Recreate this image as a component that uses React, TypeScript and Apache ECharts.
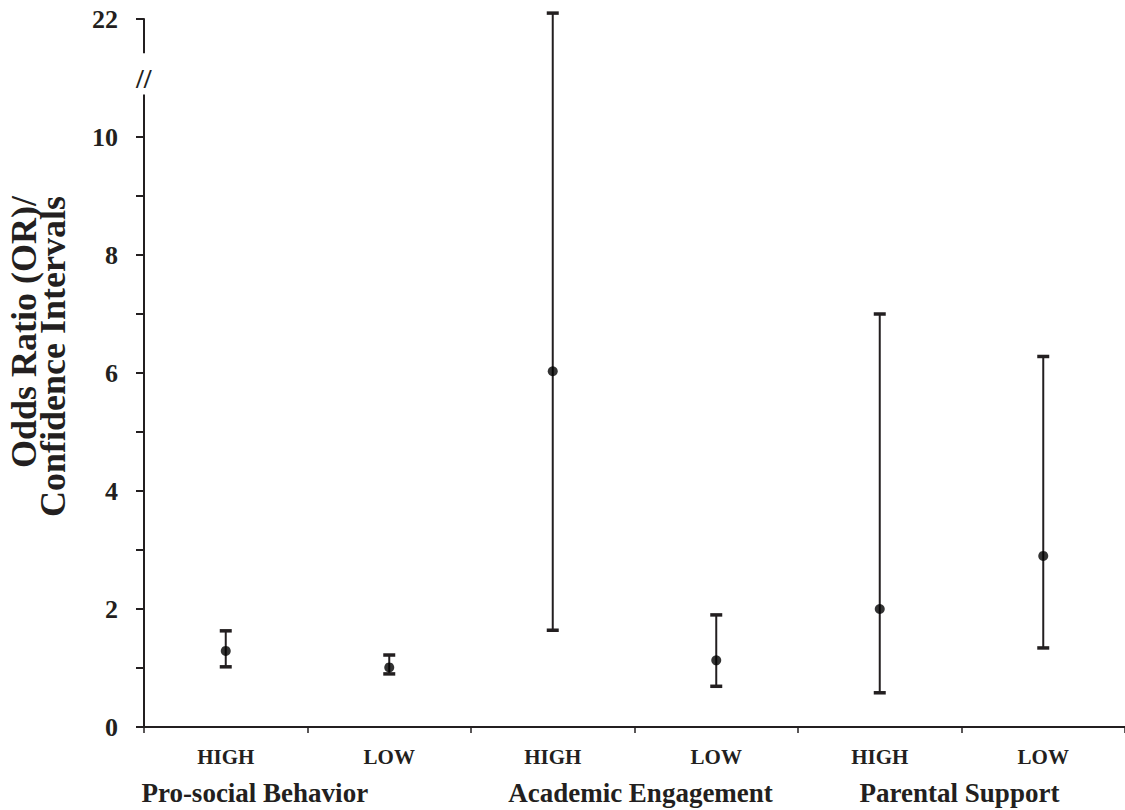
import React, { useEffect, useRef } from "react";
import * as echarts from "echarts";

const categoryIds = ["ps_high", "ps_low", "ae_high", "ae_low", "pa_high", "pa_low"];
const levelLabels = ["HIGH", "LOW", "HIGH", "LOW", "HIGH", "LOW"];
const groupNames = ["Pro-social Behavior", "Academic Engagement", "Parental Support"];
const oddsRatios = [1.29, 1.01, 6.03, 1.13, 2.0, 2.9];
const ciLower = [1.02, 0.9, 1.64, 0.69, 0.58, 1.34];
const ciUpper = [1.63, 1.22, 22.1, 1.9, 7.0, 6.28];
const yTickValues = [0, 2, 4, 6, 8, 10, 22];
const yTitleLines = ["Odds Ratio (OR)/", "Confidence Intervals"];

const BREAK_AT = 11;
const BREAK_SHIFT = 10;
const toDisplay = (v: number) => (v > BREAK_AT ? v - BREAK_SHIFT : v);

const INK = "#231f20";
const FONT = "'Liberation Serif', 'Times New Roman', serif";

export default function App() {
  const ref = useRef<HTMLDivElement>(null);

  useEffect(() => {
    if (!ref.current) return;
    const chart = echarts.init(ref.current, null, { renderer: "svg" });
    const displayTicks = yTickValues.map(toDisplay);

    const errData = categoryIds.map((_, i) => [i, toDisplay(ciLower[i]), toDisplay(ciUpper[i])]);
    const ptData = categoryIds.map((_, i) => [i, toDisplay(oddsRatios[i])]);

    chart.setOption({
      animation: false,
      grid: { left: 144, right: -3, top: 19, bottom: 83, containLabel: false },
      xAxis: {
        type: "category",
        data: categoryIds,
        boundaryGap: true,
        axisLine: { show: true, lineStyle: { color: INK, width: 2 } },
        axisTick: { show: true, length: 6, lineStyle: { color: INK, width: 1.5 } },
        axisLabel: {
          formatter: (_v: string, idx: number) => levelLabels[idx],
          color: INK,
          fontFamily: FONT,
          fontWeight: "bold",
          fontSize: 21,
          margin: 19,
        },
        splitLine: { show: false },
      },
      yAxis: {
        type: "value",
        min: 0,
        max: 12,
        interval: 1,
        axisLine: { show: true, lineStyle: { color: INK, width: 2 } },
        axisTick: { show: true, length: 8, lineStyle: { color: INK, width: 2 } },
        axisLabel: {
          formatter: (v: number) => {
            const idx = displayTicks.indexOf(v);
            return idx >= 0 ? String(yTickValues[idx]) : "";
          },
          color: INK,
          fontFamily: FONT,
          fontWeight: "bold",
          fontSize: 26,
          margin: 26,
        },
        splitLine: { show: false },
      },
      series: [
        {
          type: "custom",
          data: errData,
          encode: { x: 0, y: [1, 2] },
          renderItem: (params: any, api: any) => {
            const x = api.value(0);
            const lo = api.coord([x, api.value(1)]);
            const hi = api.coord([x, api.value(2)]);
            const half = 6;
            return {
              type: "group",
              children: [
                { type: "line", shape: { x1: lo[0], y1: lo[1], x2: hi[0], y2: hi[1] }, style: { stroke: INK, lineWidth: 2 } },
                { type: "line", shape: { x1: hi[0] - half, y1: hi[1], x2: hi[0] + half, y2: hi[1] }, style: { stroke: INK, lineWidth: 3.5 } },
                { type: "line", shape: { x1: lo[0] - half, y1: lo[1], x2: lo[0] + half, y2: lo[1] }, style: { stroke: INK, lineWidth: 3.5 } },
              ],
            };
          },
          z: 2,
        },
        {
          type: "scatter",
          data: ptData,
          symbol: "circle",
          symbolSize: 10,
          itemStyle: { color: "#000" },
          z: 3,
        },
      ],
    });

    const p0 = chart.convertToPixel({ gridIndex: 0 }, [0, BREAK_AT]) as number[];
    const pLo = chart.convertToPixel({ gridIndex: 0 }, [0, 10.72]) as number[];
    const pHi = chart.convertToPixel({ gridIndex: 0 }, [0, 11.42]) as number[];
    const axisX = (chart.convertToPixel({ gridIndex: 0 }, [0, 0]) as number[])[0] - 82;
    const catPx = categoryIds.map((_, i) => (chart.convertToPixel({ gridIndex: 0 }, [i, 0]) as number[])[0]);
    const groupLabelX = [catPx[0] + 29, (catPx[2] + catPx[3]) / 2 + 6, (catPx[4] + catPx[5]) / 2 - 2];

    const graphics: any[] = [
      {
        type: "rect",
        shape: { x: axisX - 12, y: pHi[1], width: 24, height: pLo[1] - pHi[1] },
        style: { fill: "#fff" },
        z: 10,
      },
      {
        type: "text",
        x: axisX,
        y: p0[1],
        style: { text: "//", fill: INK, font: `bold 28px ${FONT}`, textAlign: "center", textVerticalAlign: "middle" },
        z: 11,
      },
    ];
    groupNames.forEach((name, i) => {
      graphics.push({
        type: "text",
        x: groupLabelX[i],
        y: 793,
        style: { text: name, fill: INK, font: `bold 27px ${FONT}`, textAlign: "center", textVerticalAlign: "middle" },
      });
    });
    yTitleLines.forEach((line, i) => {
      graphics.push({
        type: "text",
        x: 24 + i * 29,
        y: 196,
        rotation: Math.PI / 2,
        style: { text: line, fill: INK, font: `bold 36px ${FONT}`, textAlign: "right", textVerticalAlign: "middle" },
      });
    });
    chart.setOption({ graphic: graphics });

    return () => chart.dispose();
  }, []);

  return (
    <div
      ref={ref}
      style={{ position: "fixed", left: 0, top: 0, width: 1125, height: 810, background: "#fff" }}
    />
  );
}
